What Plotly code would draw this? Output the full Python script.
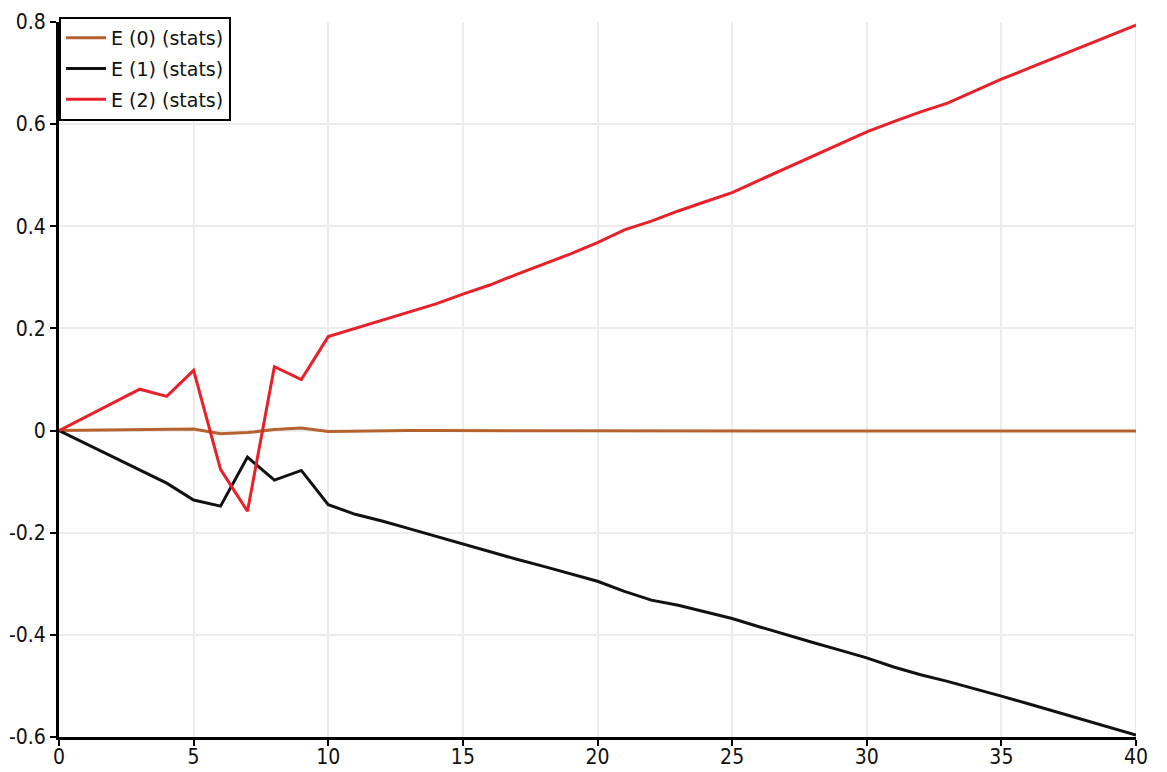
import plotly.graph_objects as go

x_vals = list(range(0, 41))

e0 = [0.0, 0.0005, 0.001, 0.001, 0.002, 0.003, -0.006, -0.004, 0.002, 0.005, -0.002,
      -0.001, -0.0005, 0.0, 0.0, -0.0005, -0.0005, -0.0005, -0.0005, -0.0005, -0.0005,
      -0.0005, -0.0005, -0.0005, -0.0005, -0.0005, -0.001, -0.001, -0.001, -0.001, -0.001,
      -0.001, -0.001, -0.001, -0.001, -0.001, -0.001, -0.001, -0.001, -0.001, -0.001]

e1 = [0.0, -0.026, -0.051, -0.077, -0.103, -0.136, -0.148, -0.052, -0.097, -0.078, -0.145,
      -0.164, -0.177, -0.192, -0.207, -0.223, -0.238, -0.252, -0.266, -0.280, -0.295,
      -0.315, -0.332, -0.342, -0.355, -0.368, -0.384, -0.400, -0.415, -0.430, -0.445,
      -0.463, -0.478, -0.491, -0.505, -0.520, -0.535, -0.550, -0.565, -0.580, -0.596]

e2 = [0.0, 0.027, 0.054, 0.081, 0.067, 0.118, -0.076, -0.158, 0.125, 0.100, 0.184,
      0.200, 0.215, 0.232, 0.248, 0.267, 0.285, 0.306, 0.326, 0.346, 0.368,
      0.393, 0.410, 0.430, 0.448, 0.466, 0.490, 0.514, 0.538, 0.562, 0.585,
      0.605, 0.624, 0.641, 0.665, 0.688, 0.709, 0.730, 0.751, 0.772, 0.794]

series_names = ["E (0) (stats)", "E (1) (stats)", "E (2) (stats)"]
series_colors = ["#b5622f", "#111111", "#e8202a"]

x_ticks = [0, 5, 10, 15, 20, 25, 30, 35, 40]
y_ticks = [-0.6, -0.4, -0.2, 0, 0.2, 0.4, 0.6, 0.8]
y_ticktext = ["-0.6", "-0.4", "-0.2", "0", "0.2", "0.4", "0.6", "0.8"]

fig = go.Figure()
for name, ys, col in zip(series_names, [e0, e1, e2], series_colors):
    fig.add_trace(go.Scatter(x=x_vals, y=ys, mode="lines", name=name,
                             legendgroup=name,
                             line=dict(color=col, width=3)))

fig.add_vline(x=max(x_vals), line=dict(color="#b8e0a0", width=1), layer="below")

font_family = "DejaVu Sans Condensed, DejaVu Sans, sans-serif"
legend_family = "DejaVu Sans, sans-serif"

fig.update_layout(
    width=1167, height=772,
    margin=dict(l=59, r=31, t=22, b=35),
    paper_bgcolor="white", plot_bgcolor="white",
    font=dict(family=font_family, size=18, color="#111"),
    showlegend=True,
    legend=dict(x=0, y=1.007, xanchor="left", yanchor="top",
                bordercolor="black", borderwidth=2, bgcolor="white",
                font=dict(size=19, family=legend_family), tracegroupgap=3,
                itemwidth=40),
)
fig.update_xaxes(range=[0, 40], tickvals=x_ticks, ticks="outside", ticklen=6,
                 tickwidth=2, tickcolor="black", showline=True, linecolor="black",
                 linewidth=3, showgrid=True, gridcolor="#ececec", gridwidth=1.5,
                 zeroline=False, automargin=False, ticklabelstandoff=-7,
                 tickfont=dict(size=21, family=font_family))
fig.update_yaxes(range=[-0.6, 0.8], tickvals=y_ticks, ticktext=y_ticktext,
                 ticks="outside", ticklen=6, tickwidth=2, tickcolor="black",
                 showline=True, linecolor="black", linewidth=3, showgrid=True,
                 gridcolor="#ececec", gridwidth=1.5, zeroline=False, automargin=False,
                 tickfont=dict(size=21, family=font_family))

fig.write_html("out.html", config={"displayModeBar": False},
               post_script="document.body.style.margin='0';document.body.style.overflow='hidden';")
